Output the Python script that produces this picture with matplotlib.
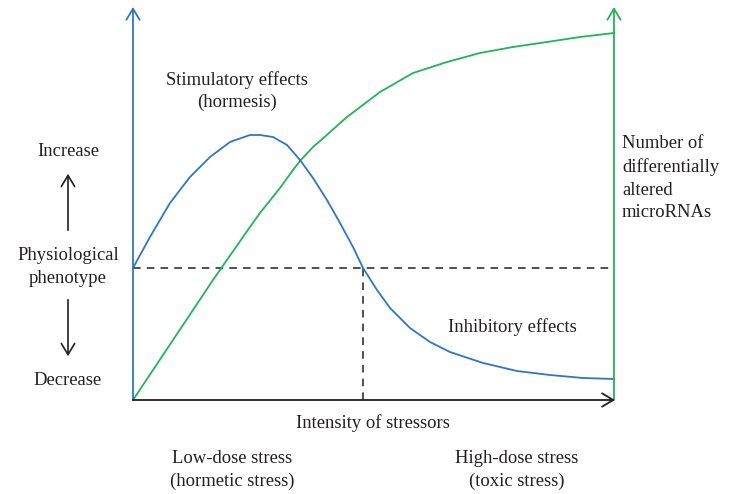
import matplotlib
matplotlib.use("Agg")
import matplotlib.pyplot as plt
from matplotlib.patches import FancyArrowPatch

# curve values (x = stress intensity 0-100, y = response 0-100)
blue_x = [0, 3.53, 7.69, 11.85, 16.01, 20.17, 24.32, 26.40, 29.11, 32.02, 34.72, 37.42,
          40.33, 43.04, 45.74, 47.82, 50.73, 53.43, 57.59, 61.75, 65.90, 72.77, 79.83,
          86.69, 93.56, 100]
blue_y = [33.42, 41.27, 49.87, 56.46, 61.52, 65.32, 67.09, 67.09, 66.58, 64.56, 60.76, 56.20,
          50.63, 44.81, 38.73, 33.42, 27.85, 23.29, 18.23, 14.68, 12.15, 9.37, 7.34,
          6.33, 5.57, 5.32]
green_x = [0, 16.63, 24.32, 26.40, 30.56, 33.26, 34.72, 37.42, 38.88, 44.49, 51.35, 58.21,
           65.28, 72.14, 79.00, 86.07, 92.93, 100]
green_y = [0, 30.38, 43.80, 47.34, 53.67, 58.23, 60.51, 64.05, 65.57, 71.65, 77.97, 82.78,
           85.57, 87.85, 89.37, 90.63, 91.90, 92.91]
baseline = 33.42
cross_x = 47.82

blue = "#2f76c2"
green = "#22b455"
ink = "#231f20"
plt.rcParams['font.family'] = ['Liberation Serif', 'DejaVu Serif']

W, H = 733, 494
fig = plt.figure(figsize=(W / 100, H / 100), dpi=100)
# plot frame: x 133..614 px, y 400..5 px
ax = fig.add_axes([133 / W, 1 - 400 / H, 481 / W, 395 / H])
ax.set_xlim(0, 100)
ax.set_ylim(0, 100)
ax.axis("off")

head = "->,head_length=0.5,head_width=0.3"
# axes with open arrowheads
ax.annotate("", xy=(0, 99.5), xytext=(0, 0),
            arrowprops=dict(arrowstyle=head, color=blue, lw=1.3, mutation_scale=16, shrinkA=0, shrinkB=0),
            annotation_clip=False)
ax.annotate("", xy=(100, 99.5), xytext=(100, 0),
            arrowprops=dict(arrowstyle=head, color=green, lw=1.3, mutation_scale=16, shrinkA=0, shrinkB=0),
            annotation_clip=False)
ax.annotate("", xy=(100.2, 0), xytext=(0, 0),
            arrowprops=dict(arrowstyle=head, color=ink, lw=1.3, mutation_scale=16, shrinkA=0, shrinkB=0),
            annotation_clip=False)

# dashed reference lines
ax.plot([0, 100], [baseline, baseline], ls=(0, (5, 4)), color=ink, lw=1.1, clip_on=False)
ax.plot([cross_x, cross_x], [0, baseline], ls=(0, (5, 4)), color=ink, lw=1.1, clip_on=False)

# curves
ax.plot(green_x, green_y, color=green, lw=1.3, clip_on=False, solid_joinstyle="round")
ax.plot(blue_x, blue_y, color=blue, lw=1.3, clip_on=False, solid_joinstyle="round")


def txt(px, py, s, ha="center", ls=1.45):
    fig.text(px / W, 1 - py / H, s, ha=ha, va="center", fontsize=13.4, color=ink,
             linespacing=ls)


txt(237, 91, "Stimulatory effects\n(hormesis)", ls=1.35)
txt(512, 327, "Inhibitory effects")
txt(68, 151, "Increase")
txt(68, 267, "Physiological\nphenotype")
txt(68, 380, "Decrease")
txt(622, 178, "Number of\ndifferentially\naltered\nmicroRNAs", ha="left")
txt(373, 423, "Intensity of stressors")
txt(232, 470, "Low-dose stress\n(hormetic stress)")
txt(517, 470, "High-dose stress\n(toxic stress)")

# up / down arrows next to phenotype label
for y0, y1 in [(233, 171), (297, 359)]:
    fig.add_artist(FancyArrowPatch(
        (68 / W, 1 - y0 / H), (68 / W, 1 - y1 / H), transform=fig.transFigure,
        arrowstyle=head, mutation_scale=16, lw=1.2, color=ink))

fig.savefig("out.png", dpi=100)
